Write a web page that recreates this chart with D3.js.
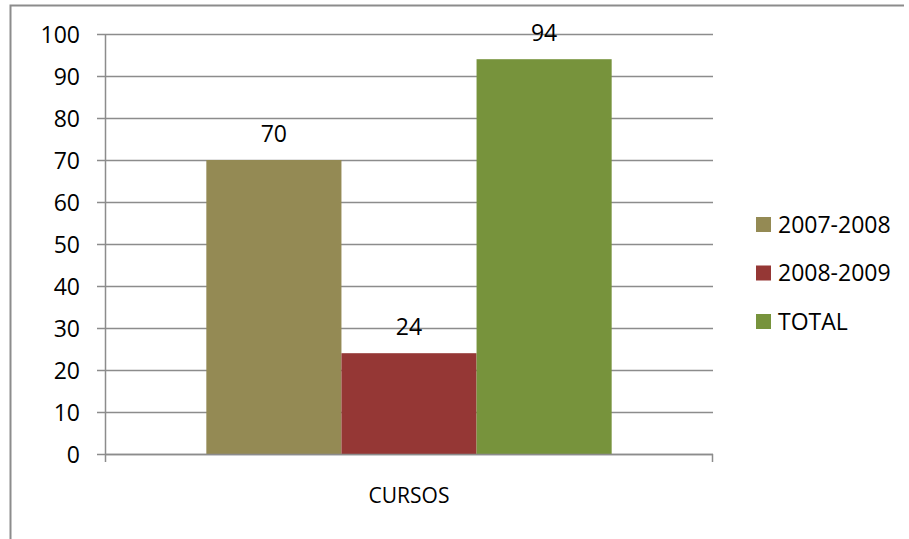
<!DOCTYPE html>
<html>
<head>
<meta charset="utf-8">
<script src="https://cdn.jsdelivr.net/npm/d3@7"></script>
<style>
  body { margin: 0; background: #fff; }
  svg text { font-family: "Open Sans", sans-serif; fill: #000; }
</style>
</head>
<body>
<div id="graph1"></div>
<script>
var categories = ["CURSOS"];
var seriesNames = ["2007-2008", "2008-2009", "TOTAL"];
var seriesValues = [70, 24, 94];
var seriesColors = ["#948A54", "#953735", "#77933C"];
var yTicks = [0, 10, 20, 30, 40, 50, 60, 70, 80, 90, 100];

var width = 909, height = 539;
var margin = {top: 34, right: 196, bottom: 85, left: 105};
var plotW = width - margin.left - margin.right,
    plotH = height - margin.top - margin.bottom;

var svg = d3.select("#graph1")
  .append("svg")
    .attr("width", width)
    .attr("height", height);

// outer frame (only left and top visible)
svg.append("path")
  .attr("d", "M10.5,539 V5.5 H904")
  .attr("fill", "none")
  .attr("stroke", "#8c8c8c")
  .attr("stroke-width", 2);

var g = svg.append("g")
  .attr("transform", "translate(" + margin.left + "," + margin.top + ")");

// Set the ranges
var x0 = d3.scaleBand().domain(categories).range([0, plotW]).paddingInner(0).paddingOuter(0.25);
var x1 = d3.scaleBand().domain(seriesNames).range([0, x0.bandwidth()]);
var y = d3.scaleLinear().domain([0, 100]).range([plotH, 0]);

// gridlines
g.selectAll(".grid")
  .data(yTicks)
  .enter().append("line")
    .attr("class", "grid")
    .attr("x1", -8)
    .attr("x2", plotW)
    .attr("y1", function(d) { return Math.round(y(d)) + 0.5; })
    .attr("y2", function(d) { return Math.round(y(d)) + 0.5; })
    .attr("stroke", "#8c8c8c")
    .attr("stroke-width", 1.5);

// bars
var grp = g.selectAll(".cat")
  .data(categories)
  .enter().append("g")
    .attr("transform", function(d) { return "translate(" + x0(d) + ",0)"; });

grp.selectAll("rect")
  .data(seriesNames)
  .enter().append("rect")
    .attr("x", function(d) { return x1(d); })
    .attr("width", x1.bandwidth())
    .attr("y", function(d, i) { return y(seriesValues[i]); })
    .attr("height", function(d, i) { return plotH - y(seriesValues[i]); })
    .attr("fill", function(d, i) { return seriesColors[i]; });

grp.selectAll(".lbl")
  .data(seriesNames)
  .enter().append("text")
    .attr("class", "lbl")
    .attr("x", function(d) { return x1(d) + x1.bandwidth() / 2; })
    .attr("y", function(d, i) { return y(seriesValues[i]) - 18; })
    .attr("text-anchor", "middle")
    .style("font-size", "23px")
    .text(function(d, i) { return seriesValues[i]; });

// Y axis
var yAxis = d3.axisLeft(y).tickValues(yTicks).tickSize(0).tickPadding(25);
var ya = g.append("g").call(yAxis);
ya.select(".domain").remove();
ya.selectAll("text").style("font-size", "23px").attr("dy", "0.35em");
g.append("line")
  .attr("x1", 0.5).attr("x2", 0.5)
  .attr("y1", 0).attr("y2", plotH + 8)
  .attr("stroke", "#8c8c8c").attr("stroke-width", 1.5);

// X axis
g.append("line")
  .attr("x1", 0).attr("x2", plotW)
  .attr("y1", plotH + 0.5).attr("y2", plotH + 0.5)
  .attr("stroke", "#8c8c8c").attr("stroke-width", 1.5);
g.append("line")
  .attr("x1", plotW - 0.5).attr("x2", plotW - 0.5)
  .attr("y1", plotH).attr("y2", plotH + 8)
  .attr("stroke", "#8c8c8c").attr("stroke-width", 1.5);
g.selectAll(".xl")
  .data(categories)
  .enter().append("text")
    .attr("x", function(d) { return x0(d) + x0.bandwidth() / 2; })
    .attr("y", plotH + 49)
    .attr("text-anchor", "middle")
    .style("font-size", "21px")
    .text(function(d) { return d; });

// legend
var leg = svg.append("g").attr("transform", "translate(756,217)");
var li = leg.selectAll(".li")
  .data(seriesNames)
  .enter().append("g")
    .attr("transform", function(d, i) { return "translate(0," + (i * 48.5) + ")"; });
li.append("rect")
  .attr("width", 15).attr("height", 15)
  .attr("fill", function(d, i) { return seriesColors[i]; });
li.append("text")
  .attr("x", 22).attr("y", 7.5)
  .attr("dy", "0.35em")
  .style("font-size", "23px")
  .text(function(d) { return d; });
</script>
</body>
</html>
